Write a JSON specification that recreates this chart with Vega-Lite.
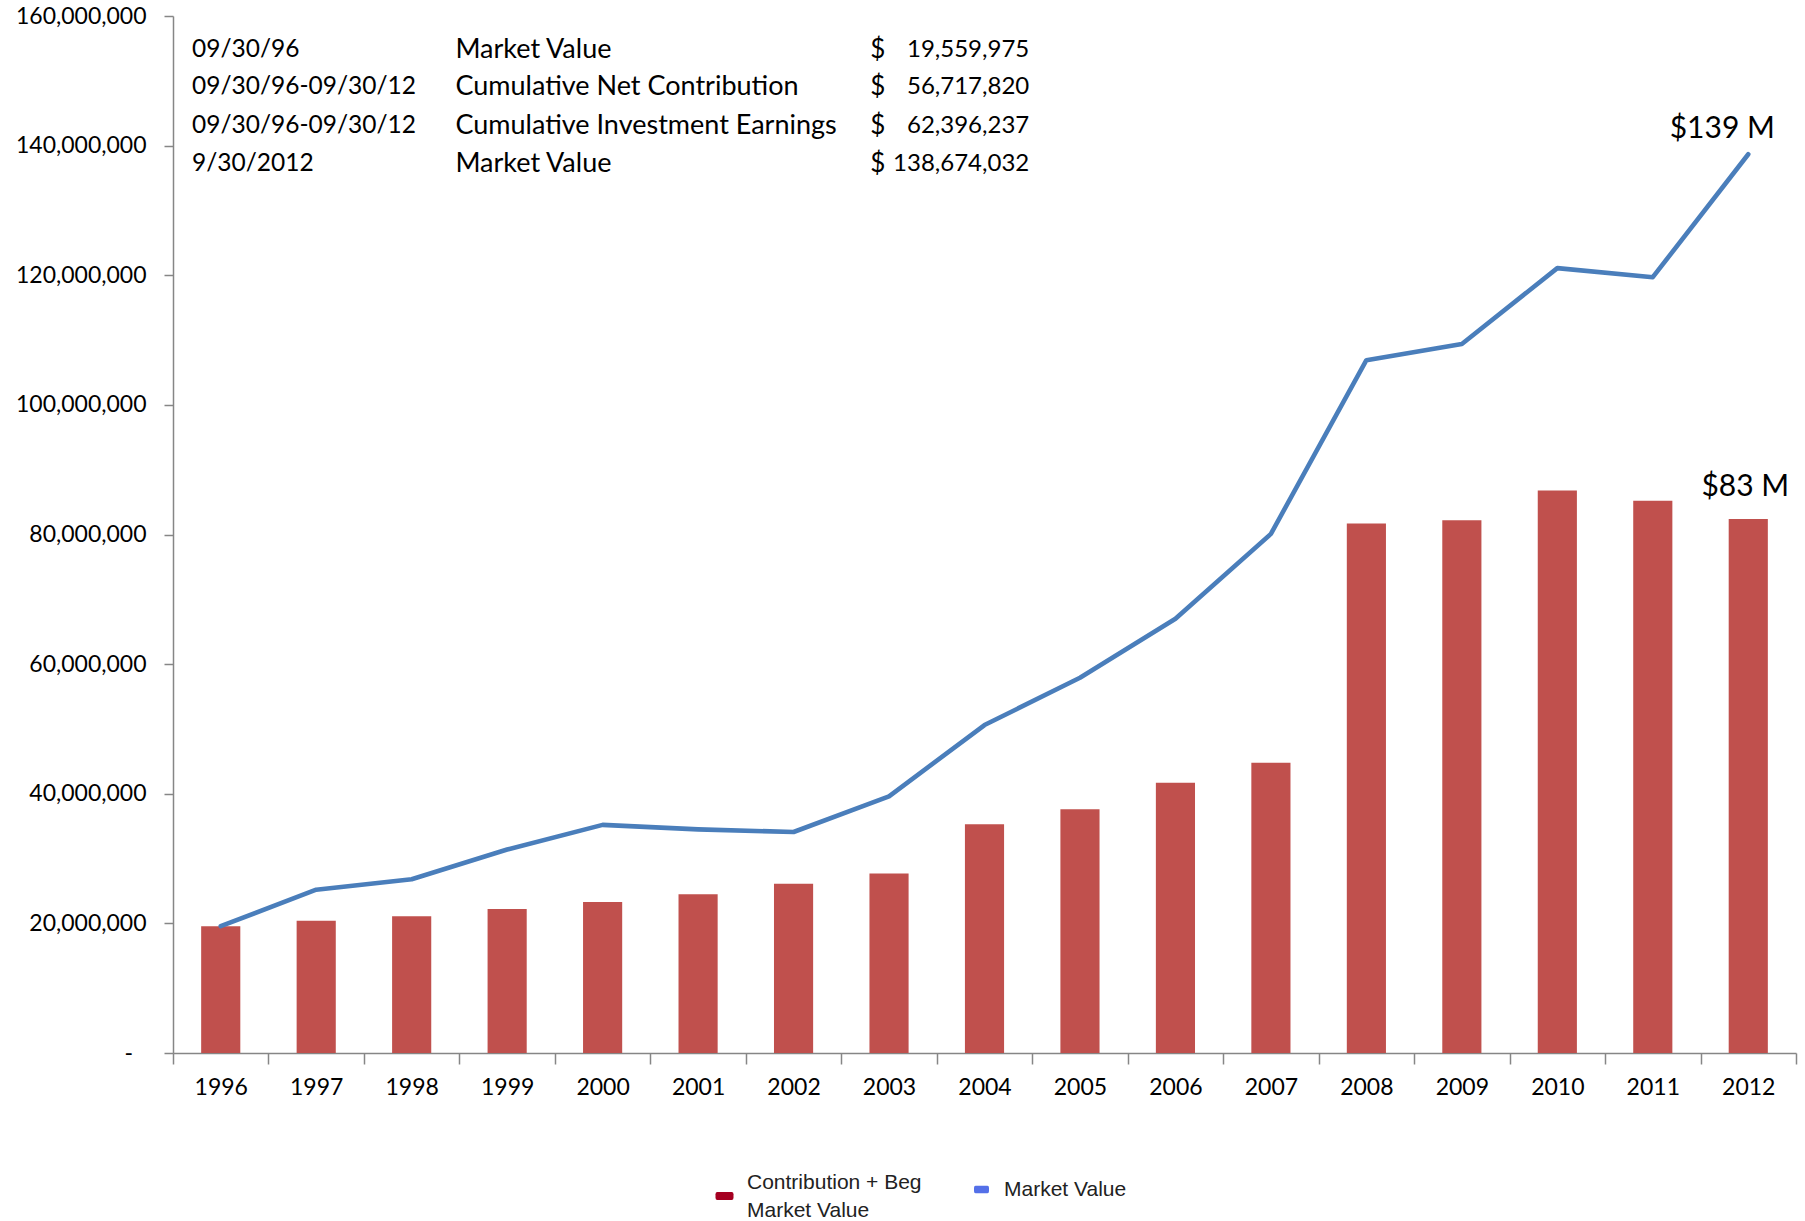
{
  "$schema": "https://vega.github.io/schema/vega-lite/v6.json",
  "width": 1623,
  "height": 1037,
  "autosize": {"type": "none"},
  "padding": {"left": 173, "top": 16, "right": 9, "bottom": 168},
  "background": "white",
  "config": {"view": {"stroke": null}, "font": "Lato"},
  "datasets": {
    "main": [
      {"year": "1996", "series": "Contribution + Beg Market Value", "value": 19559975},
      {"year": "1997", "series": "Contribution + Beg Market Value", "value": 20400000},
      {"year": "1998", "series": "Contribution + Beg Market Value", "value": 21100000},
      {"year": "1999", "series": "Contribution + Beg Market Value", "value": 22200000},
      {"year": "2000", "series": "Contribution + Beg Market Value", "value": 23300000},
      {"year": "2001", "series": "Contribution + Beg Market Value", "value": 24500000},
      {"year": "2002", "series": "Contribution + Beg Market Value", "value": 26100000},
      {"year": "2003", "series": "Contribution + Beg Market Value", "value": 27700000},
      {"year": "2004", "series": "Contribution + Beg Market Value", "value": 35300000},
      {"year": "2005", "series": "Contribution + Beg Market Value", "value": 37600000},
      {"year": "2006", "series": "Contribution + Beg Market Value", "value": 41700000},
      {"year": "2007", "series": "Contribution + Beg Market Value", "value": 44800000},
      {"year": "2008", "series": "Contribution + Beg Market Value", "value": 81700000},
      {"year": "2009", "series": "Contribution + Beg Market Value", "value": 82200000},
      {"year": "2010", "series": "Contribution + Beg Market Value", "value": 86800000},
      {"year": "2011", "series": "Contribution + Beg Market Value", "value": 85200000},
      {"year": "2012", "series": "Contribution + Beg Market Value", "value": 82400000},
      {"year": "1996", "series": "Market Value", "value": 19559975},
      {"year": "1997", "series": "Market Value", "value": 25200000},
      {"year": "1998", "series": "Market Value", "value": 26800000},
      {"year": "1999", "series": "Market Value", "value": 31400000},
      {"year": "2000", "series": "Market Value", "value": 35200000},
      {"year": "2001", "series": "Market Value", "value": 34500000},
      {"year": "2002", "series": "Market Value", "value": 34100000},
      {"year": "2003", "series": "Market Value", "value": 39600000},
      {"year": "2004", "series": "Market Value", "value": 50600000},
      {"year": "2005", "series": "Market Value", "value": 57900000},
      {"year": "2006", "series": "Market Value", "value": 67000000},
      {"year": "2007", "series": "Market Value", "value": 80100000},
      {"year": "2008", "series": "Market Value", "value": 106900000},
      {"year": "2009", "series": "Market Value", "value": 109400000},
      {"year": "2010", "series": "Market Value", "value": 121100000},
      {"year": "2011", "series": "Market Value", "value": 119700000},
      {"year": "2012", "series": "Market Value", "value": 138674032}
    ],
    "table": [
      {"date": "09/30/96", "desc": "Market Value", "amount": "19,559,975", "value": 154800000},
      {"date": "09/30/96-09/30/12", "desc": "Cumulative Net Contribution", "amount": "56,717,820", "value": 149000000},
      {"date": "09/30/96-09/30/12", "desc": "Cumulative Investment Earnings", "amount": "62,396,237", "value": 143100000},
      {"date": "9/30/2012", "desc": "Market Value", "amount": "138,674,032", "value": 137100000}
    ]
  },
  "layer": [
    {
      "data": {"name": "main"},
      "transform": [{"filter": "datum.series == 'Contribution + Beg Market Value'"}],
      "mark": {"type": "bar", "width": {"band": 0.41}, "color": "#C0504D"},
      "encoding": {
        "x": {
          "field": "year", "type": "ordinal",
          "scale": {"paddingInner": 0, "paddingOuter": 0},
          "axis": {
            "title": null, "labelAngle": 0, "labelFont": "Lato", "labelFontSize": 23,
            "labelColor": "#000", "labelPadding": 12, "tickBand": "extent",
            "tickSize": 11, "tickColor": "#868686", "tickWidth": 1.5,
            "domainColor": "#868686", "domainWidth": 1.5, "grid": false
          }
        },
        "y": {
          "field": "value", "type": "quantitative",
          "scale": {"domain": [0, 160000000], "nice": false},
          "axis": {
            "title": null, "values": [0, 20000000, 40000000, 60000000, 80000000, 100000000, 120000000, 140000000, 160000000],
            "labelExpr": "datum.value == 0 ? '-\u2007\u200b' : format(datum.value, ',')",
            "labelFont": "Lato", "labelFontSize": 23, "labelColor": "#000", "labelPadding": 18,
            "tickSize": 9, "tickColor": "#868686", "tickWidth": 1.5,
            "domainColor": "#868686", "domainWidth": 1.5, "grid": false
          }
        }
      }
    },
    {
      "data": {"name": "main"},
      "transform": [{"filter": "datum.series == 'Market Value'"}],
      "mark": {"type": "line", "strokeWidth": 4.6, "color": "#4A7EBB", "strokeCap": "round", "strokeJoin": "round"},
      "encoding": {
        "x": {"field": "year", "type": "ordinal"},
        "y": {"field": "value", "type": "quantitative"}
      }
    },
    {
      "data": {"name": "main"},
      "transform": [{"filter": "datum.series == 'Contribution + Beg Market Value'"}],
      "mark": {"type": "square", "opacity": 0, "size": 1, "filled": true},
      "encoding": {
        "x": {"field": "year", "type": "ordinal"},
        "y": {"field": "value", "type": "quantitative"},
        "fill": {
          "field": "series", "type": "nominal",
          "scale": {"domain": ["Contribution + Beg Market Value"], "range": ["#A50021"]},
          "legend": {
            "title": null, "orient": "none", "legendX": 541, "legendY": 1156,
            "symbolType": "M-0.8,-0.45 L0.8,-0.45 Q1,-0.45 1,-0.2 L1,0.2 Q1,0.45 0.8,0.45 L-0.8,0.45 Q-1,0.45 -1,0.2 L-1,-0.2 Q-1,-0.45 -0.8,-0.45 Z",
            "symbolSize": 324, "symbolOpacity": 1, "symbolStrokeWidth": 0,
            "labelFont": "Liberation Sans", "labelFontSize": 21, "labelColor": "#222",
            "labelLimit": 400, "labelOffset": 12,
            "labelExpr": "['Contribution + Beg', 'Market Value']",
            "encode": {
              "symbols": {"update": {"fill": {"value": "#A50021"}, "opacity": {"value": 1}, "fillOpacity": {"value": 1}, "y": {"value": 24}}},
              "labels": {"update": {"lineHeight": {"value": 28}}}
            }
          }
        }
      }
    },
    {
      "data": {"name": "main"},
      "transform": [{"filter": "datum.series == 'Market Value'"}],
      "mark": {"type": "square", "opacity": 0, "size": 1, "filled": true},
      "encoding": {
        "x": {"field": "year", "type": "ordinal"},
        "y": {"field": "value", "type": "quantitative"},
        "color": {
          "field": "series", "type": "nominal",
          "scale": {"domain": ["Market Value"], "range": ["#5470E8"]},
          "legend": {
            "title": null, "orient": "none", "legendX": 798, "legendY": 1163,
            "symbolType": "M-0.8,-0.5 L0.8,-0.5 Q1,-0.5 1,-0.2 L1,0.2 Q1,0.5 0.8,0.5 L-0.8,0.5 Q-1,0.5 -1,0.2 L-1,-0.2 Q-1,-0.5 -0.8,-0.5 Z",
            "symbolSize": 225, "symbolOpacity": 1, "symbolStrokeWidth": 0,
            "labelFont": "Liberation Sans", "labelFontSize": 21, "labelColor": "#222",
            "labelLimit": 400, "labelOffset": 12,
            "encode": {
              "symbols": {"update": {"fill": {"value": "#5470E8"}, "opacity": {"value": 1}, "fillOpacity": {"value": 1}}}
            }
          }
        }
      }
    },
    {
      "data": {"values": [{"year": "2012", "value": 138674032, "label": "$139 M"}]},
      "mark": {"type": "text", "font": "Lato", "fontSize": 30, "color": "#000", "align": "center", "baseline": "middle", "dx": -26, "dy": -25},
      "encoding": {
        "x": {"field": "year", "type": "ordinal"},
        "y": {"field": "value", "type": "quantitative"},
        "text": {"field": "label"}
      }
    },
    {
      "data": {"values": [{"year": "2012", "value": 82400000, "label": "$83 M"}]},
      "mark": {"type": "text", "font": "Lato", "fontSize": 30, "color": "#000", "align": "center", "baseline": "middle", "dx": -3, "dy": -32},
      "encoding": {
        "x": {"field": "year", "type": "ordinal"},
        "y": {"field": "value", "type": "quantitative"},
        "text": {"field": "label"}
      }
    },
    {
      "data": {"name": "table"},
      "mark": {"type": "text", "font": "Lato", "fontSize": 24.5, "color": "#000", "align": "left", "baseline": "middle", "dx": 19},
      "encoding": {
        "x": {"datum": "1996", "type": "ordinal", "bandPosition": 0},
        "y": {"field": "value", "type": "quantitative"},
        "text": {"field": "date"}
      }
    },
    {
      "data": {"name": "table"},
      "mark": {"type": "text", "font": "Lato", "fontSize": 27, "color": "#000", "align": "left", "baseline": "middle", "dx": -4},
      "encoding": {
        "x": {"datum": "1999", "type": "ordinal", "bandPosition": 0},
        "y": {"field": "value", "type": "quantitative"},
        "text": {"field": "desc"}
      }
    },
    {
      "data": {"name": "table"},
      "mark": {"type": "text", "font": "Lato", "fontSize": 26, "color": "#000", "align": "left", "baseline": "middle", "dx": 29, "text": "$"},
      "encoding": {
        "x": {"datum": "2003", "type": "ordinal", "bandPosition": 0},
        "y": {"field": "value", "type": "quantitative"}
      }
    },
    {
      "data": {"name": "table"},
      "mark": {"type": "text", "font": "Lato", "fontSize": 24, "color": "#000", "align": "right", "baseline": "middle", "dx": -3},
      "encoding": {
        "x": {"datum": "2004", "type": "ordinal", "bandPosition": 1},
        "y": {"field": "value", "type": "quantitative"},
        "text": {"field": "amount"}
      }
    }
  ]
}
